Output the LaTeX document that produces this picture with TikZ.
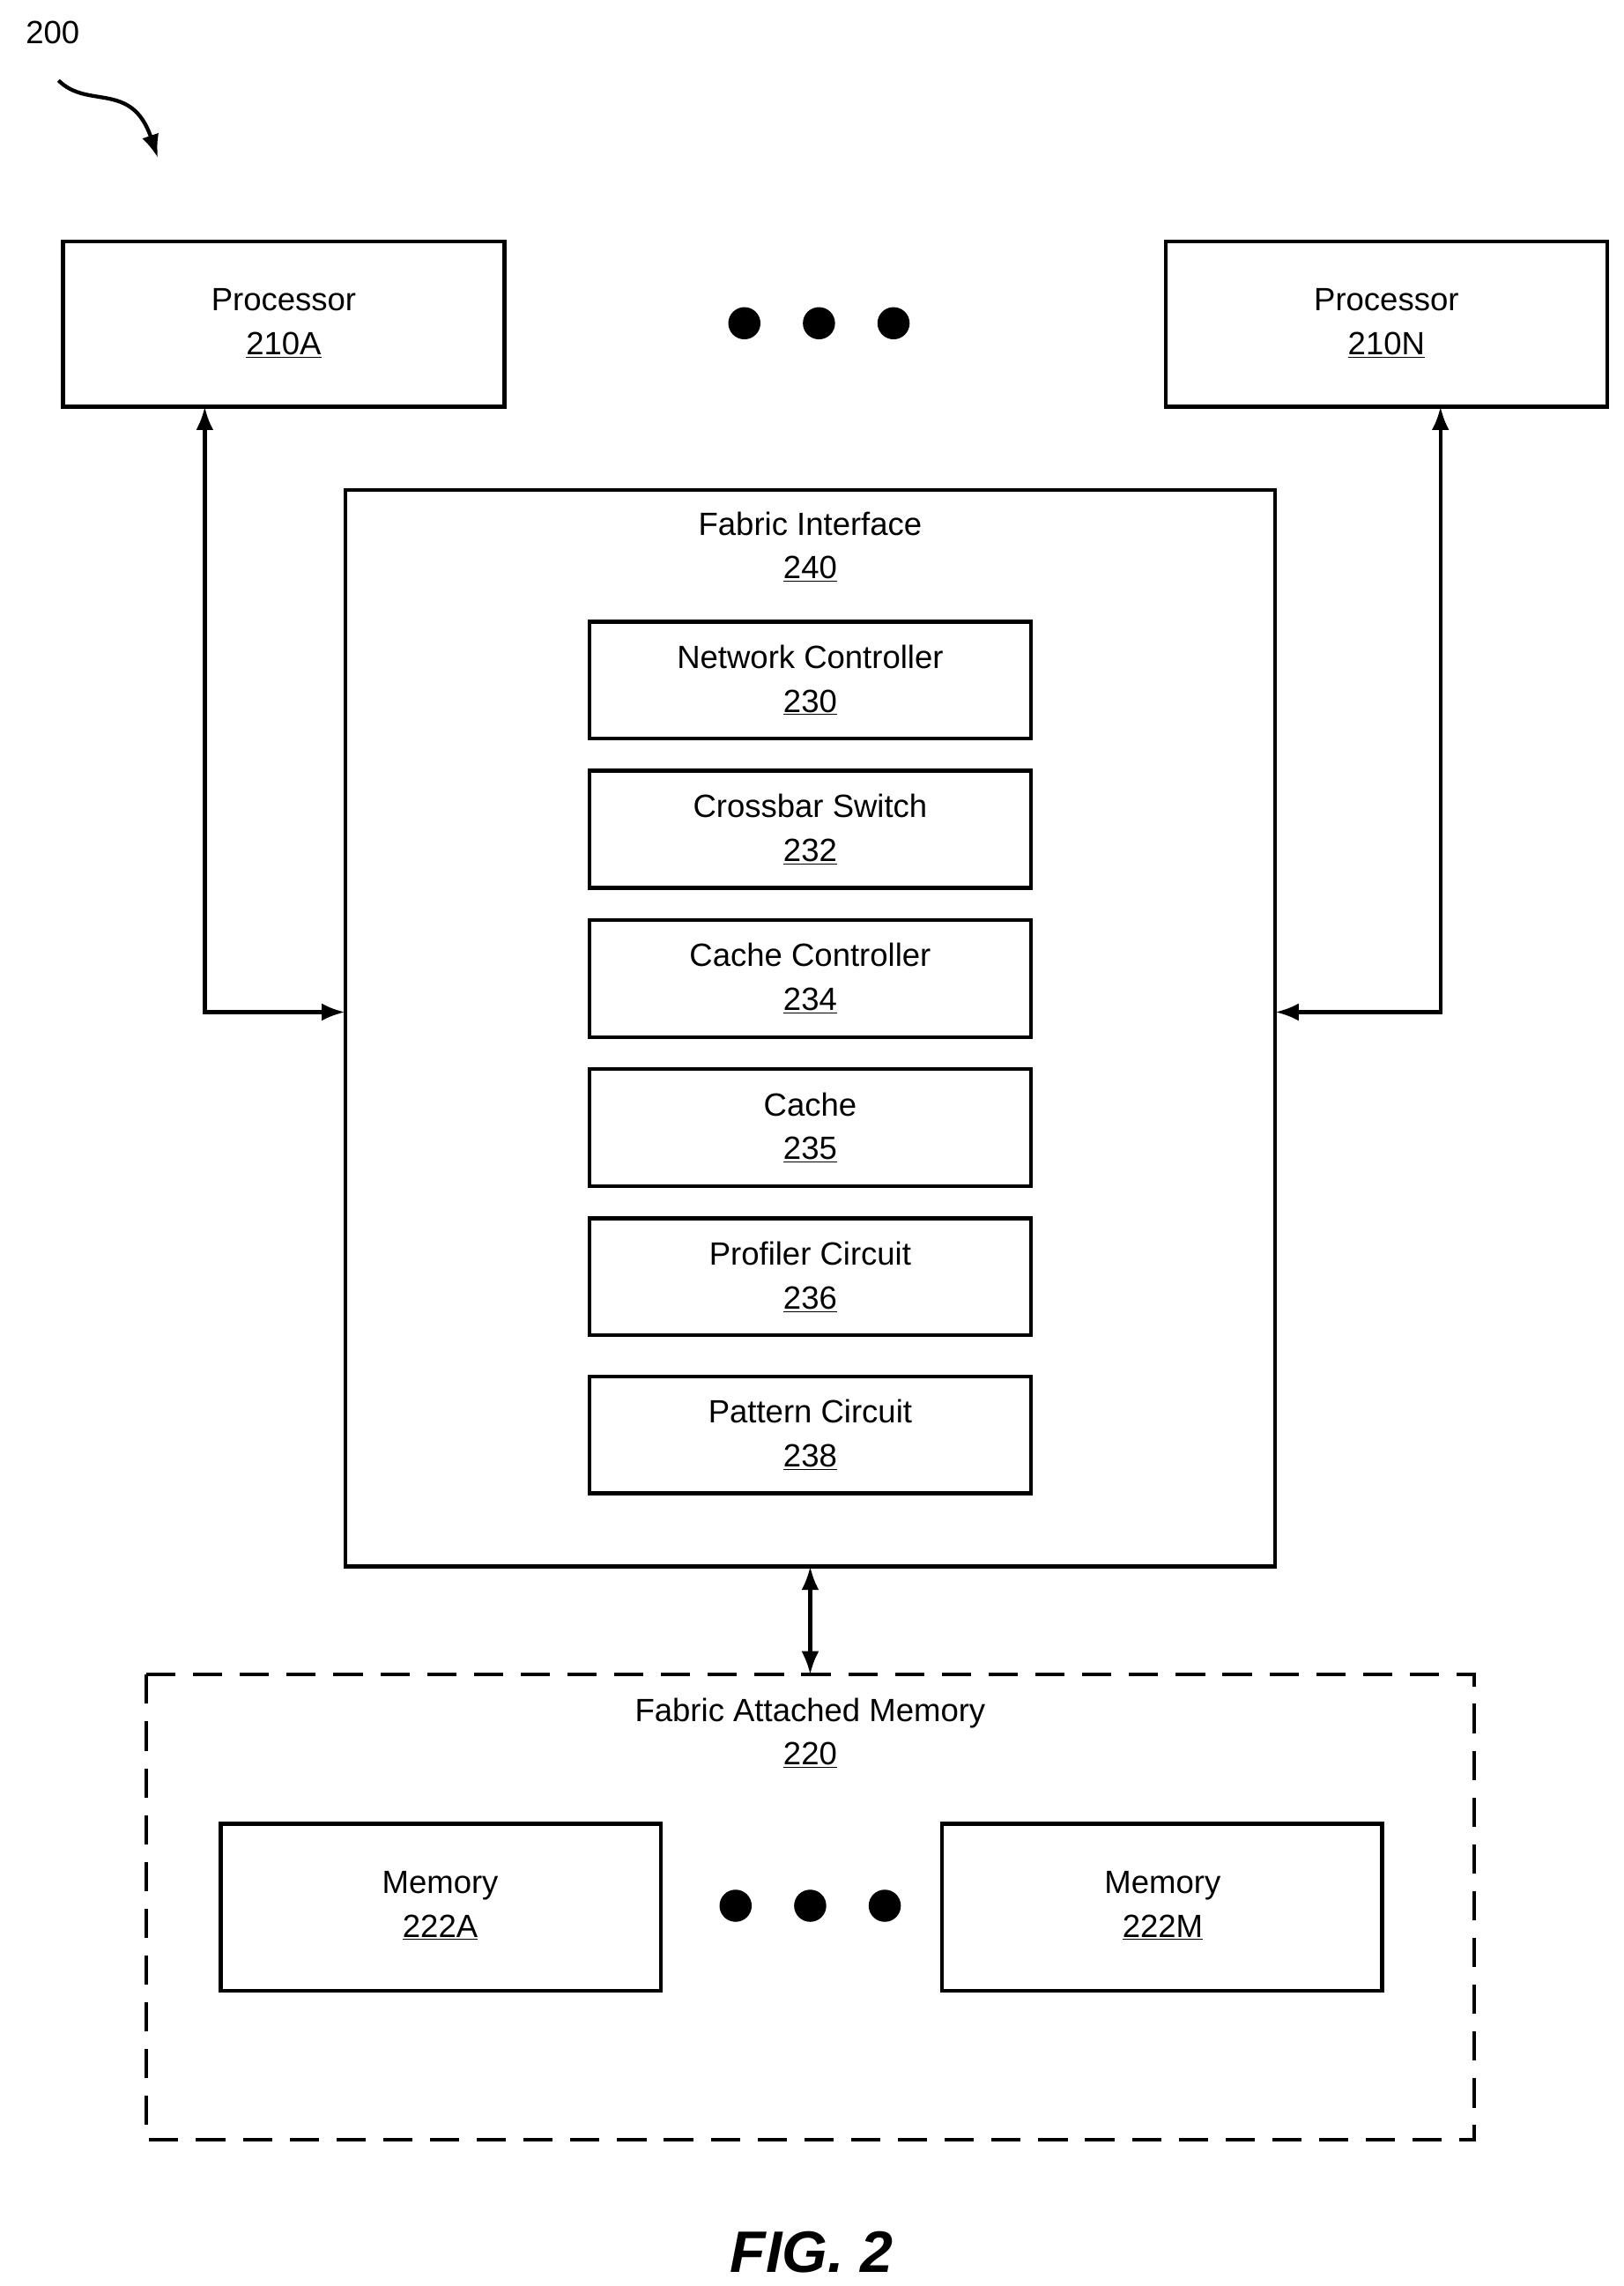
\documentclass[tikz,border=0pt]{standalone}
\usepackage{fontspec}
\setmainfont{Liberation Sans}
\usetikzlibrary{arrows.meta}
\begin{document}
\begin{tikzpicture}[x=1pt,y=-1pt,line width=2.6pt,
  box/.style={draw,align=center,font=\fontsize{22}{30}\selectfont,inner sep=0},
  lbl/.style={align=center,font=\fontsize{22}{30}\selectfont},
  arr/.style={{Latex[length=16pt,width=12pt]}-{Latex[length=16pt,width=12pt]}},
  dot/.style={circle,fill,inner sep=0,minimum size=22pt}]
\useasboundingbox (0,0) rectangle (1110,1563);
\node[lbl,anchor=center] (n200) at (36,22) {200};
\coordinate (c1) at (40,55);
\coordinate (c2) at (108,108);
\draw[-{Latex[length=16pt,width=12pt]}] (c1) .. controls (60,75) and (90,55) .. (c2);
% processors
\draw (43,165) rectangle (345,278);
\node[lbl] (pa) at (194,221) {Processor\\\underline{210A}};
\draw (797,165) rectangle (1099,278);
\node[lbl] (pn) at (948,221) {Processor\\\underline{210N}};
\foreach \x/\n in {509/a,560/b,611/c} \node[dot] (d\n) at (\x,221) {};
% fabric interface
\draw (236,335) rectangle (872,1071);
\node[lbl] (fi) at (554,374) {Fabric Interface\\\underline{240}};
\foreach \t/\l/\n/\nm in {425/Network Controller/230/a,527/Crossbar Switch/232/b,629/Cache Controller/234/c,731/Cache/235/d,833/Profiler Circuit/236/e,941/Pattern Circuit/238/f}{
  \draw (403,\t) rectangle (705,\t+80);
  \node[lbl] (in\nm) at (554,\t+40) {\l\\\underline{\n}};
}
\coordinate (pab) at (140,278);
\coordinate (pnb) at (985,278);
\coordinate (fl) at (236,692);
\coordinate (fr) at (872,692);
\draw[arr] (pab) |- (fl);
\draw[arr] (pnb) |- (fr);
\coordinate (fb) at (554,1071);
\coordinate (mt) at (554,1145);
\draw[arr] (fb) -- (mt);
% memory
\draw[dashed,dash pattern=on 20pt off 12pt] (100,1145) rectangle (1008,1463);
\node[lbl] (fam) at (554,1185) {Fabric Attached Memory\\\underline{220}};
\draw (151,1247) rectangle (452,1361);
\node[lbl] (ma) at (301,1303) {Memory\\\underline{222A}};
\draw (644,1247) rectangle (945,1361);
\node[lbl] (mm) at (795,1303) {Memory\\\underline{222M}};
\foreach \x/\n in {503/a,554/b,605/c} \node[dot] (e\n) at (\x,1303) {};
\node[font=\fontsize{40}{44}\selectfont\bfseries\itshape] (fig) at (555,1540) {FIG. 2};
\end{tikzpicture}
\end{document}
